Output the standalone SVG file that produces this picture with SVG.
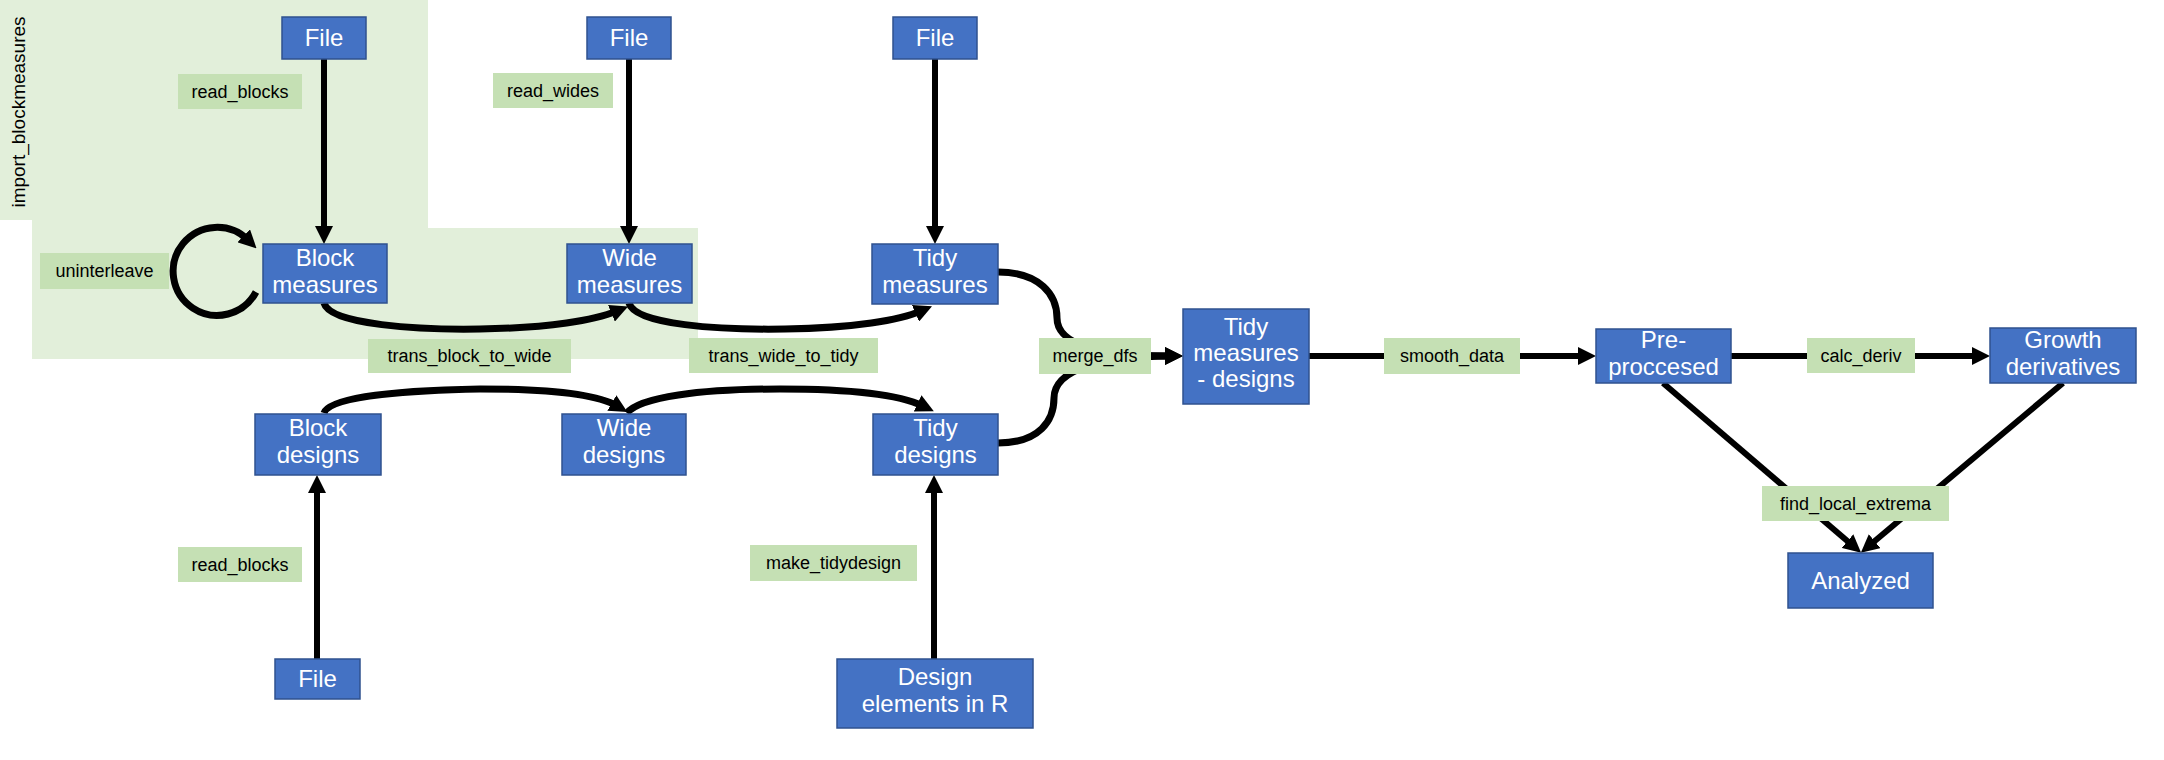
<svg xmlns="http://www.w3.org/2000/svg" width="2164" height="760" viewBox="0 0 2164 760">
<style>
.n rect{fill:#4472C4;stroke:#2F528F;stroke-width:1.5}
.n text{fill:#fff;font-family:"Liberation Sans",Arial,sans-serif;font-size:24px;text-anchor:middle}
.l rect{fill:#C5E0B4}
.l text{fill:#000;font-family:"Liberation Sans",Arial,sans-serif;font-size:18px;text-anchor:middle}
.c path{fill:none;stroke:#000;stroke-width:6}
.c path.cv{stroke-width:7}
</style>
<defs>
<marker id="ah" markerUnits="userSpaceOnUse" markerWidth="18" markerHeight="18" refX="6" refY="9" orient="auto" viewBox="0 0 18 18">
<path d="M0,0 L18,9 L0,18 z" fill="#000"/>
</marker>
</defs>
<rect width="2164" height="760" fill="#fff"/>
<g id="region">
<polygon points="0,0 428,0 428,228 698,228 698,359 32,359 32,220 0,220" fill="#E2EFDA"/>
<text transform="translate(25,112) rotate(-90)" font-family="Liberation Sans,Arial,sans-serif" font-size="19" text-anchor="middle" fill="#000">import_blockmeasures</text>
</g>
<g id="connectors" class="c">
<path d="M324,59 V232" marker-end="url(#ah)"/>
<path d="M629,59 V232" marker-end="url(#ah)"/>
<path d="M935,59 V232" marker-end="url(#ah)"/>
<path class="cv" d="M256,292 A44,44 0 1 1 248,240" marker-end="url(#ah)"/>
<path class="cv" d="M324,303 C330,325 420,330 480,329 C550,328 595,320 617,311" marker-end="url(#ah)"/>
<path class="cv" d="M629,303 C635,325 720,330 785,329 C855,328 900,320 921,311" marker-end="url(#ah)"/>
<path class="cv" d="M324,413 C330,395 420,390 480,389 C550,389 598,395 617,406" marker-end="url(#ah)"/>
<path class="cv" d="M627,413 C640,397 700,389 780,389 C850,389 900,395 923,406" marker-end="url(#ah)"/>
<path class="cv" d="M998,272 C1040,272 1057,295 1057,318 C1057,345 1100,356 1171,356" marker-end="url(#ah)"/>
<path class="cv" d="M998,443 C1040,443 1054,420 1054,398 C1054,370 1100,356 1171,356" marker-end="url(#ah)"/>
<path d="M317,659 V487" marker-end="url(#ah)"/>
<path d="M934,659 V487" marker-end="url(#ah)"/>
<path d="M1309,356 H1584" marker-end="url(#ah)"/>
<path d="M1731,356 H1978" marker-end="url(#ah)"/>
<path d="M1663,383 L1852,545" marker-end="url(#ah)"/>
<path d="M2063,383 L1870,545" marker-end="url(#ah)"/>
</g>
<g id="labels" class="l">
<g id="lbl-read-blocks-1"><rect x="178" y="74" width="124" height="35"/><text x="240" y="98">read_blocks</text></g>
<g id="lbl-read-wides"><rect x="493" y="73" width="120" height="35"/><text x="553" y="97">read_wides</text></g>
<g id="lbl-uninterleave"><rect x="40" y="253" width="129" height="36"/><text x="104.5" y="277">uninterleave</text></g>
<g id="lbl-trans-block"><rect x="368" y="339" width="203" height="34"/><text x="469.5" y="362">trans_block_to_wide</text></g>
<g id="lbl-trans-wide"><rect x="689" y="338" width="189" height="35"/><text x="783.5" y="362">trans_wide_to_tidy</text></g>
<g id="lbl-merge"><rect x="1039" y="338" width="112" height="36"/><text x="1095" y="362">merge_dfs</text></g>
<g id="lbl-smooth"><rect x="1384" y="338" width="136" height="36"/><text x="1452" y="362">smooth_data</text></g>
<g id="lbl-calc"><rect x="1807" y="338" width="108" height="35"/><text x="1861" y="362">calc_deriv</text></g>
<g id="lbl-find"><rect x="1762" y="486" width="187" height="35"/><text x="1855.5" y="510">find_local_extrema</text></g>
<g id="lbl-read-blocks-2"><rect x="178" y="547" width="124" height="35"/><text x="240" y="571">read_blocks</text></g>
<g id="lbl-make"><rect x="750" y="545" width="167" height="36"/><text x="833.5" y="569">make_tidydesign</text></g>
</g>
<g id="file1" class="n"><rect x="282" y="17" width="84" height="42"/><text x="324" y="46">File</text></g>
<g id="file2" class="n"><rect x="587" y="17" width="84" height="42"/><text x="629" y="46">File</text></g>
<g id="file3" class="n"><rect x="893" y="17" width="84" height="42"/><text x="935" y="46">File</text></g>
<g id="block-measures" class="n"><rect x="263" y="244" width="124" height="59"/><text x="325" y="266">Block</text><text x="325" y="293">measures</text></g>
<g id="wide-measures" class="n"><rect x="567" y="244" width="125" height="59"/><text x="629.5" y="266">Wide</text><text x="629.5" y="293">measures</text></g>
<g id="tidy-measures" class="n"><rect x="872" y="244" width="126" height="60"/><text x="935" y="266">Tidy</text><text x="935" y="293">measures</text></g>
<g id="block-designs" class="n"><rect x="255" y="414" width="126" height="61"/><text x="318" y="436">Block</text><text x="318" y="463">designs</text></g>
<g id="wide-designs" class="n"><rect x="562" y="414" width="124" height="61"/><text x="624" y="436">Wide</text><text x="624" y="463">designs</text></g>
<g id="tidy-designs" class="n"><rect x="873" y="414" width="125" height="61"/><text x="935.5" y="436">Tidy</text><text x="935.5" y="463">designs</text></g>
<g id="file4" class="n"><rect x="275" y="659" width="85" height="40"/><text x="317.5" y="687">File</text></g>
<g id="design-elements" class="n"><rect x="837" y="659" width="196" height="69"/><text x="935" y="685">Design</text><text x="935" y="712">elements in R</text></g>
<g id="tidy-measures-designs" class="n"><rect x="1183" y="309" width="126" height="95"/><text x="1246" y="335">Tidy</text><text x="1246" y="361">measures</text><text x="1246" y="387">- designs</text></g>
<g id="preprocessed" class="n"><rect x="1596" y="329" width="135" height="54"/><text x="1663.5" y="348">Pre-</text><text x="1663.5" y="375">proccesed</text></g>
<g id="growth-derivatives" class="n"><rect x="1990" y="328" width="146" height="55"/><text x="2063" y="348">Growth</text><text x="2063" y="375">derivatives</text></g>
<g id="analyzed" class="n"><rect x="1788" y="553" width="145" height="55"/><text x="1860.5" y="589">Analyzed</text></g>
</svg>
